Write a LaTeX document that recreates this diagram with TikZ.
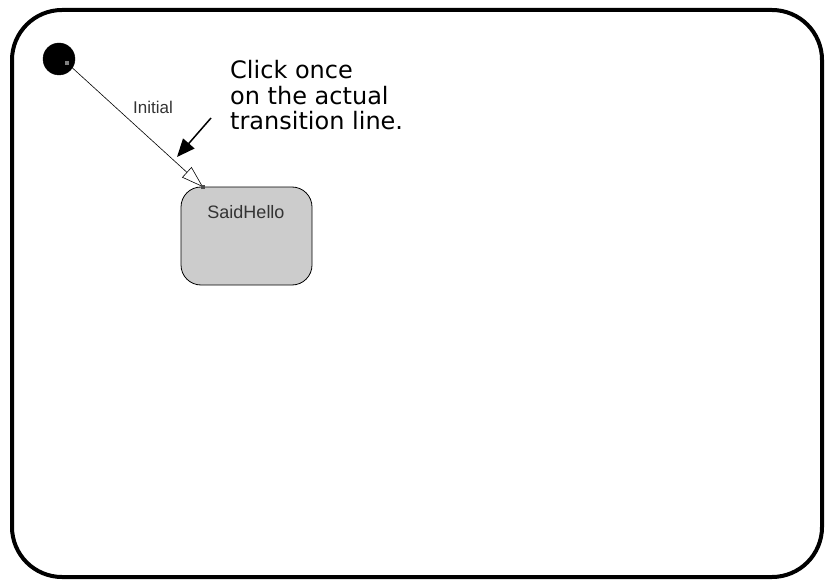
\documentclass[tikz,border=0pt]{standalone}
\usepackage{fontspec}
\setmainfont{DejaVu Sans}
\newfontfamily\arialfont{Liberation Sans}
\usetikzlibrary{arrows.meta}
\definecolor{stategray}{HTML}{CCCCCC}
\begin{document}
\begin{tikzpicture}[x=1pt,y=-1pt,
  frame/.style={draw=black,line width=4pt,rounded corners=50pt},
  initstate/.style={circle,fill=black,draw=black,minimum size=32pt,inner sep=0pt},
  statebox/.style={draw=black,line width=0.8pt,fill=stategray,rounded corners=20pt,minimum width=131pt,minimum height=98pt,inner sep=0pt},
  handle/.style={fill=#1,minimum size=4pt,inner sep=0pt},
  trans/.style={draw=black,line width=0.6pt,-{Triangle[open,length=22pt,width=14pt]}},
  note/.style={align=left,anchor=base west,font=\fontsize{24}{25.5}\selectfont,inner sep=0pt},
  pointer/.style={draw=black,line width=1.5pt,-{Triangle[length=18pt,width=15pt]}},
  lbl/.style={font=\arialfont\fontsize{#1}{#1}\selectfont,text=black!80,inner sep=0pt,anchor=base}
]
\useasboundingbox (0,0) rectangle (826,580);
\draw[frame] (12,10) rectangle (822,577);
\node[initstate] (init) at (59,59) {};
\node[statebox] (said) at (246.5,236) {};
\node[lbl=18] (saidlbl) at (246,218) {SaidHello};
\coordinate (src) at (67,63);
\coordinate (tip) at (203,187);
\draw[trans] (src) -- (tip);
\node[handle=gray] (h1) at (src) {};
\node[handle=black!70] (h2) at (tip) {};
\node[lbl=17] (initlbl) at (153,114) {Initial};
\node[note] (txt) at (230,130) {Click once\\on the actual\\transition line.};
\coordinate (pstart) at (211,118);
\coordinate (pend) at (177,157);
\draw[pointer] (pstart) -- (pend);
\end{tikzpicture}
\end{document}
